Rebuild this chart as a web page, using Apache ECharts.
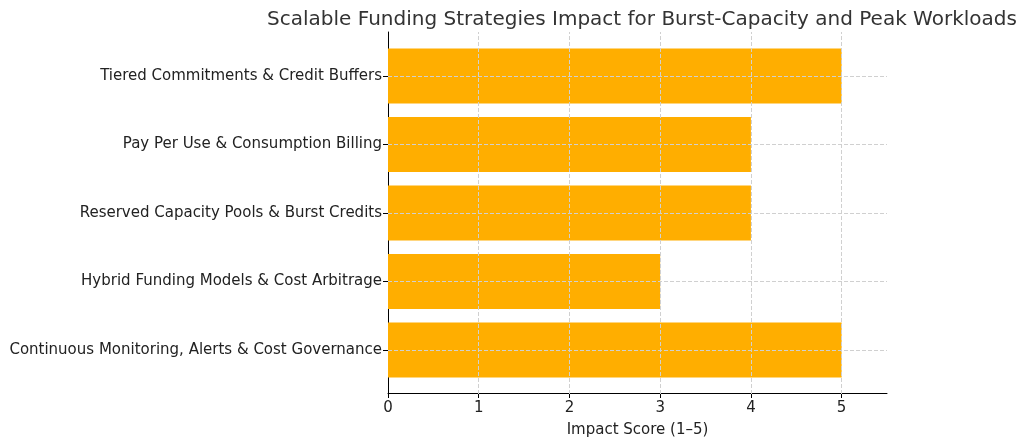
<!DOCTYPE html>
<html><head><meta charset="utf-8">
<script src="https://cdn.jsdelivr.net/npm/echarts@6/dist/echarts.min.js"></script>
<style>html,body{margin:0;padding:0;background:#fff}#c{width:1024px;height:443px}</style>
</head><body><div id="c"></div>
<script>
const categories = ["Continuous Monitoring, Alerts & Cost Governance","Hybrid Funding Models & Cost Arbitrage","Reserved Capacity Pools & Burst Credits","Pay Per Use & Consumption Billing","Tiered Commitments & Credit Buffers"];
const values = [5,3,4,4,5];
const xTicks = [0,1,2,3,4,5];
const chart = echarts.init(document.getElementById('c'));
const font = "DejaVu Sans";
const grid = '#d0d0d0';
chart.setOption({
  animation:false,
  title:{text:"Scalable Funding Strategies Impact for Burst-Capacity and Peak Workloads",left:637,top:5,textAlign:'center',textStyle:{fontFamily:font,fontSize:20,fontWeight:'normal',color:'#333'}},
  grid:[{left:388,right:137,top:41.75,bottom:58.75},{left:388,right:137,top:32,bottom:49}],
  xAxis:[
    {gridIndex:0,type:'value',min:0,max:5.5,show:false},
    {gridIndex:1,type:'value',min:0,max:5.5,name:"Impact Score (1–5)",nameLocation:'middle',nameGap:30,
     nameTextStyle:{fontFamily:font,fontSize:15,color:'#222'},
     axisLine:{show:true,lineStyle:{color:'#000'}},
     axisTick:{show:true,customValues:xTicks,lineStyle:{color:'#000'}},
     axisLabel:{fontFamily:font,fontSize:15,color:'#222',customValues:xTicks},
     splitLine:{show:false}}
  ],
  yAxis:[
    {gridIndex:0,type:'category',data:categories,
     axisLine:{show:false},axisTick:{show:true,alignWithLabel:true,length:5,lineStyle:{color:'#000'}},
     axisLabel:{fontFamily:font,fontSize:15,color:'#222',margin:6},splitLine:{show:false}},
    {gridIndex:1,type:'value',min:0,max:1,axisLine:{show:true,lineStyle:{color:'#000'}},
     axisTick:{show:false},axisLabel:{show:false},splitLine:{show:false}}
  ],
  series:[
    {type:'bar',xAxisIndex:0,yAxisIndex:0,data:values,barCategoryGap:'20%',itemStyle:{color:'#FFAE00'},z:3},
    {type:'line',xAxisIndex:0,yAxisIndex:0,data:[],z:1,
     markLine:{silent:true,symbol:'none',label:{show:false},lineStyle:{type:'dashed',color:grid,width:1},
       data:categories.map(c=>({yAxis:c})).concat(xTicks.slice(1).map(v=>[{coord:[v,categories[0]],y:394},{coord:[v,categories[0]],y:32}]))}}
  ]
});
</script></body></html>
